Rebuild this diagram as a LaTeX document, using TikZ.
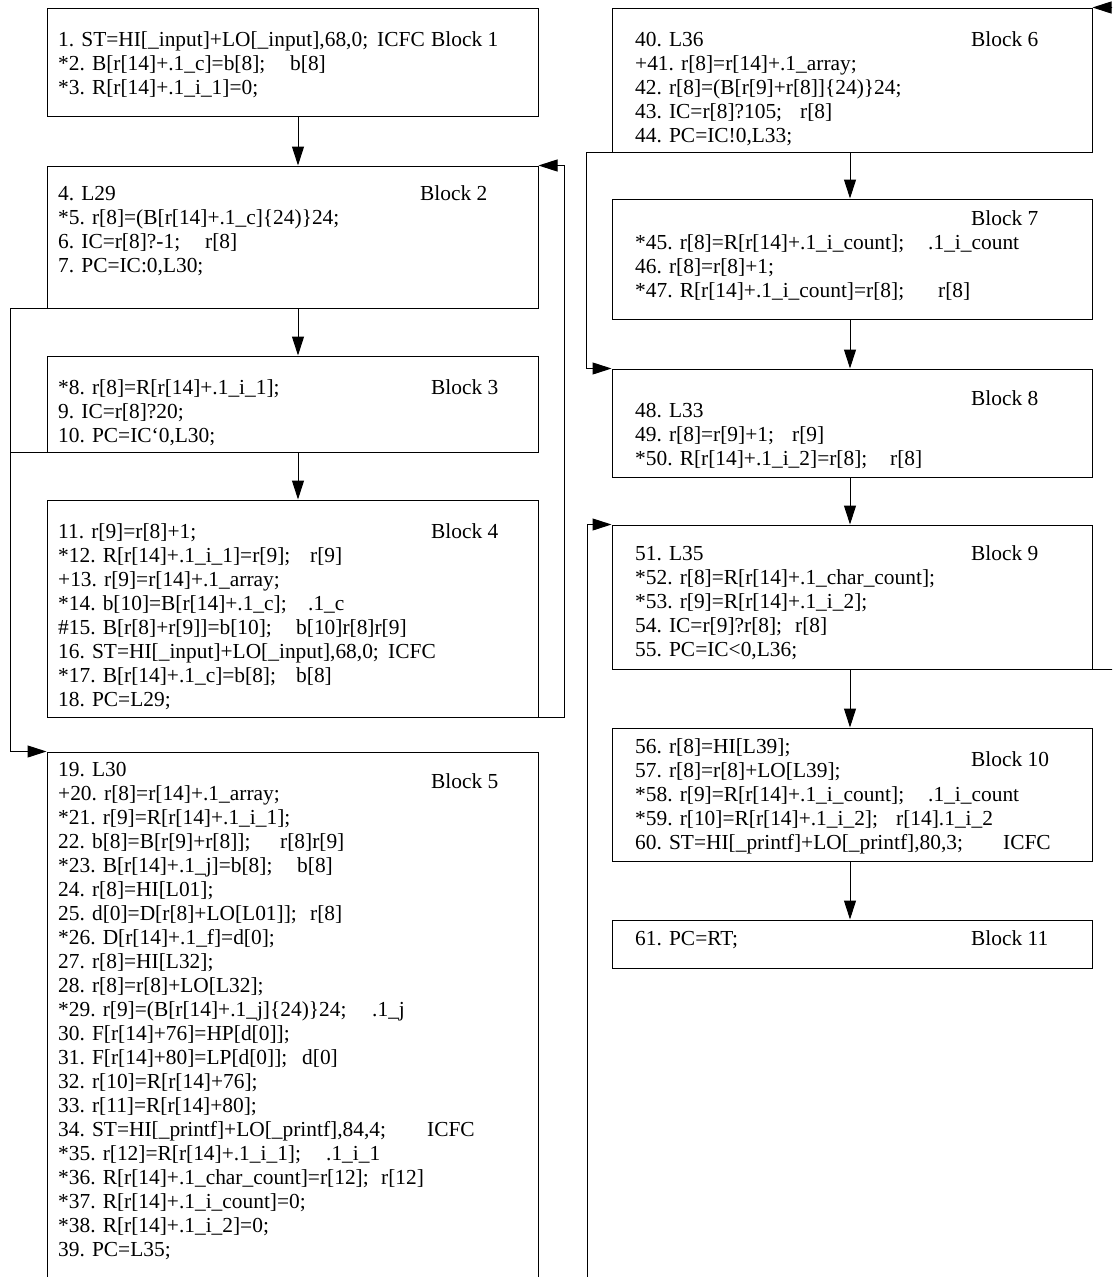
\documentclass[tikz,border=0pt]{standalone}
\usepackage{fontspec}
\setmainfont{Liberation Serif}
\usetikzlibrary{arrows.meta}
\newcommand\codefont{\fontsize{21.4pt}{24pt}\selectfont}
\newcommand\codeblock[1]{\vtop{\lineskiplimit=-100pt\lineskip=0pt\baselineskip=24pt #1}}
\newcommand\cln[1]{\hbox{#1}}
\newcommand\cpair[3]{\hbox{\makebox[#2pt][l]{#1}#3}}
\begin{document}
\begin{tikzpicture}[x=1pt,y=-1pt,
  every node/.style={font=\codefont},
  lbox/.style={draw=black, line width=1pt, inner sep=0pt, minimum width=491pt},
  rbox/.style={draw=black, line width=1pt, inner sep=0pt, minimum width=480pt},
  txt/.style={anchor=base west, inner sep=0pt},
  edge/.style={draw=black, line width=1pt},
  arr/.style={edge, -{Triangle[length=19pt,width=12pt]}}]
\useasboundingbox (0,0) rectangle (1112,1277);
\fill[white] (0,0) rectangle (1112,1277);
\clip (0,0) rectangle (1112,1277);

% ---------- left column ----------
\node[lbox, minimum height=108pt] (b1) at (292.5,62) {};
\node[lbox, minimum height=142pt] (b2) at (292.5,237) {};
\node[lbox, minimum height=96pt]  (b3) at (292.5,404) {};
\node[lbox, minimum height=217pt] (b4) at (292.5,608.5) {};
\node[lbox, minimum height=560pt] (b5) at (292.5,1032) {};

\node[txt] (t1) at (58,46) {\codeblock{%
\cpair{1. ST=HI[\_input]+LO[\_input],68,0;}{319}{ICFC}
\cpair{*2. B[r[14]+.1\_c]=b[8];}{232}{b[8]}
\cln{*3. R[r[14]+.1\_i\_1]=0;}}};
\node[txt] (l1) at (431,46) {Block 1};

\node[txt] (t2) at (58,200) {\codeblock{%
\cln{4. L29}
\cln{*5. r[8]=(B[r[14]+.1\_c]\{24)\}24;}
\cpair{6. IC=r[8]?-1;}{147}{r[8]}
\cln{7. PC=IC:0,L30;}}};
\node[txt] (l2) at (420,200) {Block 2};

\node[txt] (t3) at (58,394) {\codeblock{%
\cln{*8. r[8]=R[r[14]+.1\_i\_1];}
\cln{9. IC=r[8]?20;}
\cln{10. PC=IC`0,L30;}}};
\node[txt] (l3) at (431,394) {Block 3};

\node[txt] (t4) at (58,538) {\codeblock{%
\cln{11. r[9]=r[8]+1;}
\cpair{*12. R[r[14]+.1\_i\_1]=r[9];}{252}{r[9]}
\cln{+13. r[9]=r[14]+.1\_array;}
\cpair{*14. b[10]=B[r[14]+.1\_c];}{250}{.1\_c}
\cpair{\#15. B[r[8]+r[9]]=b[10];}{238}{b[10]r[8]r[9]}
\cpair{16. ST=HI[\_input]+LO[\_input],68,0;}{330}{ICFC}
\cpair{*17. B[r[14]+.1\_c]=b[8];}{238}{b[8]}
\cln{18. PC=L29;}}};
\node[txt] (l4) at (431,538) {Block 4};

\node[txt] (t5) at (58,776) {\codeblock{%
\cln{19. L30}
\cln{+20. r[8]=r[14]+.1\_array;}
\cln{*21. r[9]=R[r[14]+.1\_i\_1];}
\cpair{22. b[8]=B[r[9]+r[8]];}{222}{r[8]r[9]}
\cpair{*23. B[r[14]+.1\_j]=b[8];}{239}{b[8]}
\cln{24. r[8]=HI[L01];}
\cpair{25. d[0]=D[r[8]+LO[L01]];}{252}{r[8]}
\cln{*26. D[r[14]+.1\_f]=d[0];}
\cln{27. r[8]=HI[L32];}
\cln{28. r[8]=r[8]+LO[L32];}
\cpair{*29. r[9]=(B[r[14]+.1\_j]\{24)\}24;}{314}{.1\_j}
\cln{30. F[r[14]+76]=HP[d[0]];}
\cpair{31. F[r[14]+80]=LP[d[0]];}{244}{d[0]}
\cln{32. r[10]=R[r[14]+76];}
\cln{33. r[11]=R[r[14]+80];}
\cpair{34. ST=HI[\_printf]+LO[\_printf],84,4;}{369}{ICFC}
\cpair{*35. r[12]=R[r[14]+.1\_i\_1];}{268}{.1\_i\_1}
\cpair{*36. R[r[14]+.1\_char\_count]=r[12];}{323}{r[12]}
\cln{*37. R[r[14]+.1\_i\_count]=0;}
\cln{*38. R[r[14]+.1\_i\_2]=0;}
\cln{39. PC=L35;}}};
\node[txt] (l5) at (431,788) {Block 5};

% ---------- right column ----------
\node[rbox, minimum height=144pt] (b6)  at (852,80) {};
\node[rbox, minimum height=120pt] (b7)  at (852,259) {};
\node[rbox, minimum height=108pt] (b8)  at (852,423) {};
\node[rbox, minimum height=144pt] (b9)  at (852,597) {};
\node[rbox, minimum height=133pt] (b10) at (852,794.5) {};
\node[rbox, minimum height=48pt]  (b11) at (852,944) {};

\node[txt] (t6) at (635,46) {\codeblock{%
\cln{40. L36}
\cln{+41. r[8]=r[14]+.1\_array;}
\cln{42. r[8]=(B[r[9]+r[8]]\{24)\}24;}
\cpair{43. IC=r[8]?105;}{165}{r[8]}
\cln{44. PC=IC!0,L33;}}};
\node[txt] (l6) at (971,46) {Block 6};

\node[txt] (t7) at (635,249) {\codeblock{%
\cpair{*45. r[8]=R[r[14]+.1\_i\_count];}{293}{.1\_i\_count}
\cln{46. r[8]=r[8]+1;}
\cpair{*47. R[r[14]+.1\_i\_count]=r[8];}{303}{r[8]}}};
\node[txt] (l7) at (971,225) {Block 7};

\node[txt] (t8) at (635,417) {\codeblock{%
\cln{48. L33}
\cpair{49. r[8]=r[9]+1;}{157}{r[9]}
\cpair{*50. R[r[14]+.1\_i\_2]=r[8];}{255}{r[8]}}};
\node[txt] (l8) at (971,405) {Block 8};

\node[txt] (t9) at (635,560) {\codeblock{%
\cln{51. L35}
\cln{*52. r[8]=R[r[14]+.1\_char\_count];}
\cln{*53. r[9]=R[r[14]+.1\_i\_2];}
\cpair{54. IC=r[9]?r[8];}{160}{r[8]}
\cln{55. PC=IC<0,L36;}}};
\node[txt] (l9) at (971,560) {Block 9};

\node[txt] (t10) at (635,753) {\codeblock{%
\cln{56. r[8]=HI[L39];}
\cln{57. r[8]=r[8]+LO[L39];}
\cpair{*58. r[9]=R[r[14]+.1\_i\_count];}{293}{.1\_i\_count}
\cpair{*59. r[10]=R[r[14]+.1\_i\_2];}{261}{r[14].1\_i\_2}
\cpair{60. ST=HI[\_printf]+LO[\_printf],80,3;}{368}{ICFC}}};
\node[txt] (l10) at (971,766) {Block 10};

\node[txt] (t11) at (635,945) {61. PC=RT;};
\node[txt] (l11) at (971,945) {Block 11};

% ---------- connectors ----------
\draw[arr] ([xshift=5.5pt]b1.south) -- ([xshift=5.5pt]b2.north);
\draw[arr] ([xshift=5.5pt]b2.south) -- ([xshift=5.5pt]b3.north);
\draw[arr] ([xshift=5.5pt]b3.south) -- ([xshift=5.5pt]b4.north);
\draw[arr] (b4.south east) -- ++(26,0) |- (b2.north east);
\draw[arr] (b2.south west) -- ++(-36,0) |- (b5.north west);
\draw[edge] (b3.south west) -- ++(-36,0);

\draw[arr] ([xshift=-2pt]b6.south) -- ([xshift=-2pt]b7.north);
\draw[arr] ([xshift=-2pt]b7.south) -- ([xshift=-2pt]b8.north);
\draw[arr] ([xshift=-2pt]b8.south) -- ([xshift=-2pt]b9.north);
\draw[arr] ([xshift=-2pt]b9.south) -- ([xshift=-2pt]b10.north);
\draw[arr] ([xshift=-2pt]b10.south) -- ([xshift=-2pt]b11.north);
\draw[arr] (b6.south west) -- ++(-25,0) |- (b8.north west);
\coordinate (b5exit) at (587,1300);
\draw[arr] (b5exit) |- (b9.north west);
\draw[arr] (b9.south east) -- ++(30,0) |- (b6.north east);
\end{tikzpicture}
\end{document}
